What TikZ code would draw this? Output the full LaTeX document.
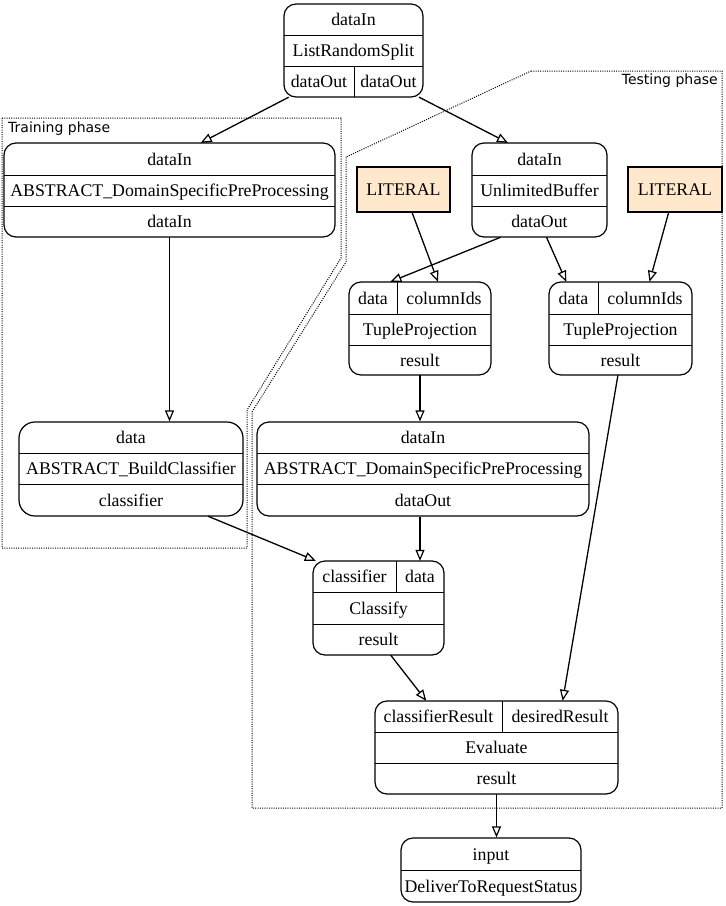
\documentclass[tikz,border=0pt]{standalone}
\usepackage{fontspec}
\setmainfont{Liberation Serif}
\newfontfamily\clusterfont{DejaVu Sans}
\usetikzlibrary{arrows.meta}
\definecolor{litfill}{HTML}{FFE8CC}
\begin{document}
\begin{tikzpicture}[x=1pt,y=-1pt,
  recbox/.style={draw, line width=1.2pt, rounded corners=12pt, inner sep=0pt},
  cell/.style={inner sep=0pt, font=\fontsize{17.8}{20}\selectfont, text height=12pt, text depth=0pt},
  div/.style={line width=1pt},
  edge/.style={line width=1.3pt, -{Triangle[open, length=11pt, width=9pt, line width=1.2pt]}},
  literal/.style={draw, line width=1.1pt, fill=litfill, inner sep=0pt, font=\fontsize{17.8}{20}\selectfont, text height=12pt, text depth=0pt},
  cluster/.style={line width=1pt, dash pattern=on 1pt off 1.3pt},
  clabel/.style={font=\clusterfont\fontsize{14}{16}\selectfont, inner sep=0pt}
]
\useasboundingbox (0,0) rectangle (726,906);

% clusters
\draw[cluster] (2,118) -- (341,118) -- (341,258) -- (247,410) -- (247,548) -- (2,548) -- cycle;
\draw[cluster] (531,71) -- (722,71) -- (722,808) -- (252,808) -- (252,412) -- (346,262) -- (346,157) -- cycle;
\node[clabel, anchor=west] (trainlbl) at (8,129) {Training phase};
\node[clabel, anchor=east] (testlbl) at (718,81) {Testing phase};

% ListRandomSplit
\node[recbox, minimum width=139pt, minimum height=93pt] (lrs) at (353.5,50.5) {};
\node[cell, minimum width=139pt, minimum height=31pt] (lrsI) at (353.5,19.5) {dataIn};
\node[cell, minimum width=139pt, minimum height=31pt] (lrsN) at (353.5,50.5) {ListRandomSplit};
\node[cell, minimum width=70pt, minimum height=31pt] (lrsO1) at (319,81.5) {dataOut};
\node[cell, minimum width=69pt, minimum height=31pt] (lrsO2) at (388.5,81.5) {dataOut};
\draw[div] (lrsI.south west) -- (lrsI.south east);
\draw[div] (lrsN.south west) -- (lrsN.south east);
\draw[div] (lrsO1.north east) -- (lrsO1.south east);

% Training preprocessing
\node[recbox, minimum width=331pt, minimum height=94pt] (tpre) at (169.5,190) {};
\node[cell, minimum width=331pt, minimum height=32pt] (tpreI) at (169.5,159) {dataIn};
\node[cell, minimum width=331pt, minimum height=31pt] (tpreN) at (169.5,190.5) {ABSTRACT\_DomainSpecificPreProcessing};
\node[cell, minimum width=331pt, minimum height=31pt] (tpreO) at (169.5,221.5) {dataIn};
\draw[div] (tpreI.south west) -- (tpreI.south east);
\draw[div] (tpreN.south west) -- (tpreN.south east);

% BuildClassifier
\node[recbox, rounded corners=16pt, minimum width=224pt, minimum height=94pt] (bc) at (131,469) {};
\node[cell, minimum width=224pt, minimum height=31pt] (bcI) at (131,437.5) {data};
\node[cell, minimum width=224pt, minimum height=31pt] (bcN) at (131,468.5) {ABSTRACT\_BuildClassifier};
\node[cell, minimum width=224pt, minimum height=32pt] (bcC) at (131,500) {classifier};
\draw[div] (bcI.south west) -- (bcI.south east);
\draw[div] (bcN.south west) -- (bcN.south east);

% UnlimitedBuffer
\node[recbox, minimum width=135pt, minimum height=94pt] (ub) at (539.5,190) {};
\node[cell, minimum width=135pt, minimum height=32pt] (ubI) at (539.5,159) {dataIn};
\node[cell, minimum width=135pt, minimum height=31pt] (ubN) at (539.5,190.5) {UnlimitedBuffer};
\node[cell, minimum width=135pt, minimum height=31pt] (ubO) at (539.5,221.5) {dataOut};
\draw[div] (ubI.south west) -- (ubI.south east);
\draw[div] (ubN.south west) -- (ubN.south east);

% Literals
\node[literal, minimum width=93pt, minimum height=45pt] (litL) at (403.5,189.5) {LITERAL};
\node[literal, minimum width=94pt, minimum height=45pt] (litR) at (675,189.5) {LITERAL};

% TupleProjection left
\node[recbox, minimum width=142pt, minimum height=93pt] (tpL) at (420,328.5) {};
\node[cell, minimum width=48pt, minimum height=32pt] (tpLd) at (373,298) {data};
\node[cell, minimum width=94pt, minimum height=32pt] (tpLc) at (444,298) {columnIds};
\node[cell, minimum width=142pt, minimum height=31pt] (tpLn) at (420,329.5) {TupleProjection};
\node[cell, minimum width=142pt, minimum height=30pt] (tpLr) at (420,360) {result};
\draw[div] (tpLd.south west) -- (tpLc.south east);
\draw[div] (tpLn.south west) -- (tpLn.south east);
\draw[div] (tpLd.north east) -- (tpLd.south east);

% TupleProjection right
\node[recbox, minimum width=143pt, minimum height=93pt] (tpR) at (620.5,328.5) {};
\node[cell, minimum width=49pt, minimum height=32pt] (tpRd) at (573.5,298) {data};
\node[cell, minimum width=94pt, minimum height=32pt] (tpRc) at (645,298) {columnIds};
\node[cell, minimum width=143pt, minimum height=31pt] (tpRn) at (620.5,329.5) {TupleProjection};
\node[cell, minimum width=143pt, minimum height=30pt] (tpRr) at (620.5,360) {result};
\draw[div] (tpRd.south west) -- (tpRc.south east);
\draw[div] (tpRn.south west) -- (tpRn.south east);
\draw[div] (tpRd.north east) -- (tpRd.south east);

% Testing preprocessing
\node[recbox, minimum width=332pt, minimum height=94pt] (tsp) at (423,469) {};
\node[cell, minimum width=332pt, minimum height=31pt] (tspI) at (423,437.5) {dataIn};
\node[cell, minimum width=332pt, minimum height=31pt] (tspN) at (423,468.5) {ABSTRACT\_DomainSpecificPreProcessing};
\node[cell, minimum width=332pt, minimum height=32pt] (tspO) at (423,500) {dataOut};
\draw[div] (tspI.south west) -- (tspI.south east);
\draw[div] (tspN.south west) -- (tspN.south east);

% Classify
\node[recbox, minimum width=131pt, minimum height=94pt] (cls) at (378.5,608) {};
\node[cell, minimum width=83pt, minimum height=31pt] (clsC) at (354.5,576.5) {classifier};
\node[cell, minimum width=48pt, minimum height=31pt] (clsD) at (420,576.5) {data};
\node[cell, minimum width=131pt, minimum height=32pt] (clsN) at (378.5,608) {Classify};
\node[cell, minimum width=131pt, minimum height=31pt] (clsR) at (378.5,639.5) {result};
\draw[div] (clsC.south west) -- (clsD.south east);
\draw[div] (clsN.south west) -- (clsN.south east);
\draw[div] (clsC.north east) -- (clsC.south east);

% Evaluate
\node[recbox, minimum width=243pt, minimum height=93pt] (ev) at (496.5,747.5) {};
\node[cell, minimum width=127pt, minimum height=31pt] (evC) at (438.5,716.5) {classifierResult};
\node[cell, minimum width=116pt, minimum height=31pt] (evD) at (560,716.5) {desiredResult};
\node[cell, minimum width=243pt, minimum height=31pt] (evN) at (496.5,747.5) {Evaluate};
\node[cell, minimum width=243pt, minimum height=31pt] (evR) at (496.5,778.5) {result};
\draw[div] (evC.south west) -- (evD.south east);
\draw[div] (evN.south west) -- (evN.south east);
\draw[div] (evC.north east) -- (evC.south east);

% DeliverToRequestStatus
\node[recbox, minimum width=180pt, minimum height=64pt] (dlv) at (491,870) {};
\node[cell, minimum width=180pt, minimum height=32pt] (dlvI) at (491,854) {input};
\node[cell, minimum width=180pt, minimum height=32pt] (dlvN) at (491,886) {DeliverToRequestStatus};
\draw[div] (dlvI.south west) -- (dlvI.south east);

% edges
\draw[edge] (lrsO1) -- (tpreI);
\draw[edge] (lrsO2) -- (ubI);
\draw[edge] (tpreO.south) -- (tpreO.south |- bc.north);
\draw[edge] (ubO) -- (tpLd.43);
\draw[edge] (ubO) -- (tpRd);
\draw[edge] (litL) -- (tpLc);
\draw[edge] (litR) -- (tpRc);
\draw[edge] (tpLr.south) -- (tpLr.south |- tsp.north);
\draw[edge] (tpRr) -- (evD);
\draw[edge] ([xshift=77pt]bcC.south) -- ([xshift=3pt]clsC.north west);
\draw[edge] (clsD.north |- tsp.south) -- (clsD.north);
\draw[edge] (clsR) -- (evC);
\draw[edge] (evR.south) -- (evR.south |- dlv.north);
\end{tikzpicture}
\end{document}
